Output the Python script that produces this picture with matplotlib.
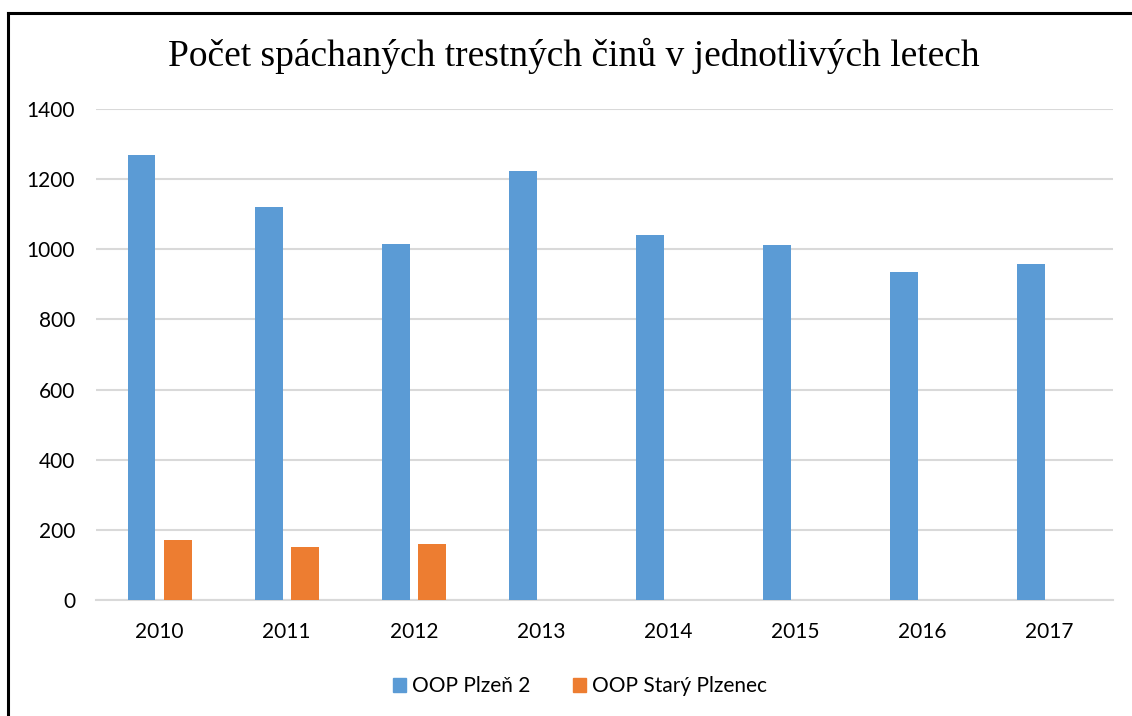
import matplotlib
matplotlib.use("Agg")
import matplotlib.pyplot as plt
from matplotlib.lines import Line2D
from matplotlib.patches import Patch
import numpy as np

# data
years = ["2010", "2011", "2012", "2013", "2014", "2015", "2016", "2017"]
plzen_2 = [1268, 1120, 1016, 1222, 1041, 1011, 934, 959]
stary_plzenec = [171, 151, 160, 0, 0, 0, 0, 0]
yticks = [0, 200, 400, 600, 800, 1000, 1200, 1400]

title = "Počet spáchaných trestných činů v jednotlivých letech"
labels = ["OOP Plzeň 2", "OOP Starý Plzenec"]
colors = ["#5B9BD5", "#ED7D31"]

W, H = 1132, 716
fig = plt.figure(figsize=(W / 100, H / 100), dpi=100)
ax = fig.add_axes([96 / W, 1 - 600 / H, (1113 - 96) / W, (600 - 109) / H])

x = np.arange(len(years))
width = 0.22
offset = 0.142
ax.bar(x - offset, plzen_2, width, color=colors[0], zorder=3)
ax.bar(x + offset, stary_plzenec, width, color=colors[1], zorder=3)

ax.set_xlim(-0.5, len(years) - 0.5)
ax.set_ylim(0, 1400)
ax.set_yticks(yticks)
ax.set_xticks(x)
ax.set_xticklabels(years)
ax.grid(axis="y", color="#D9D9D9", linewidth=1.5, zorder=0)
for side in ["top", "right", "left"]:
    ax.spines[side].set_visible(False)
ax.spines["bottom"].set_color("#D9D9D9")
ax.spines["bottom"].set_linewidth(1.5)
ax.tick_params(length=0, labelsize=15, colors="#000000")
ax.tick_params(axis="y", pad=15)
ax.tick_params(axis="x", pad=16)
for lbl in ax.get_xticklabels() + ax.get_yticklabels():
    lbl.set_family("Lato")

fig.text(574 / W, 1 - 56 / H, title, ha="center", va="center",
         family="Liberation Serif", fontsize=27)

handles = [Patch(color=c, label=l) for c, l in zip(colors, labels)]
fig.legend(handles=handles, loc="center", bbox_to_anchor=(580 / W, 1 - 686 / H),
           ncol=2, frameon=False, prop={"family": "Lato", "size": 15},
           handlelength=0.65, handleheight=0.65, handletextpad=0.3, columnspacing=2.0)

# black frame (top and left edges visible)
fig.add_artist(Line2D([8 / W, 1], [1 - 13 / H, 1 - 13 / H], color="black", linewidth=2.2))
fig.add_artist(Line2D([8 / W, 8 / W], [0, 1 - 13 / H], color="black", linewidth=2.2))

fig.savefig("out.png", dpi=100)
